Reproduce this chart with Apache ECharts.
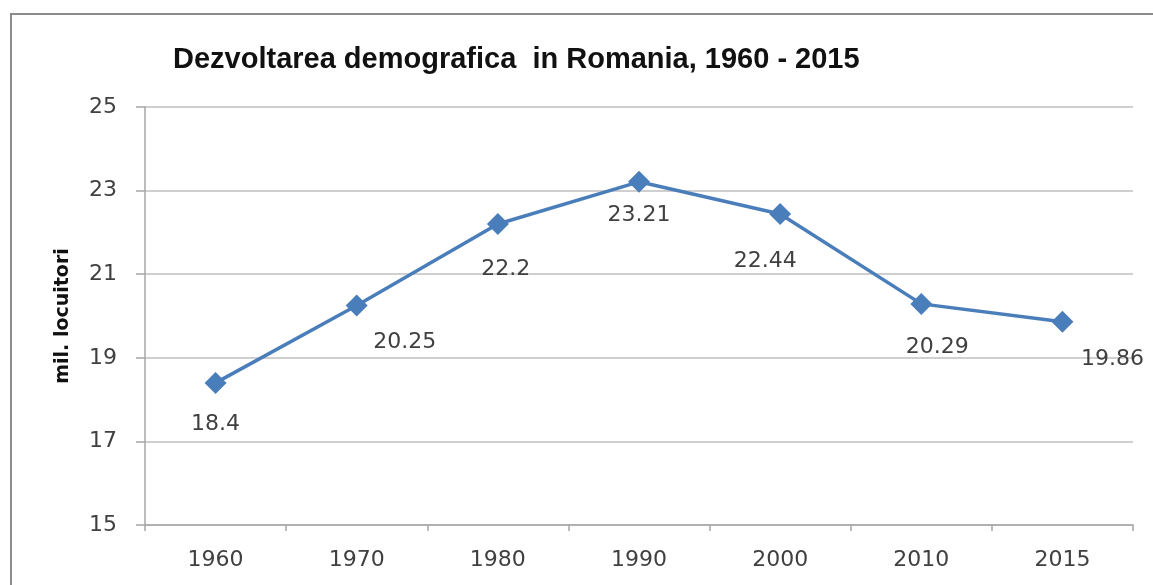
<!DOCTYPE html>
<html>
<head>
<meta charset="utf-8">
<script src="https://cdn.jsdelivr.net/npm/echarts@6/dist/echarts.min.js"></script>
<style>
  html, body { margin: 0; padding: 0; background: #fff; }
  #chart { width: 1153px; height: 585px; }
</style>
</head>
<body>
<div id="chart"></div>
<script>
// data
const years = ['1960', '1970', '1980', '1990', '2000', '2010', '2015']
const population = [18.4, 20.25, 22.2, 23.21, 22.44, 20.29, 19.86]
const yTicks = [15, 17, 19, 21, 23, 25]

// label nudges (x, y) so labels sit where the original put them
const labelShift = [[0, 0], [48, -4], [8, 4], [0, -8], [-15, 6], [16, 2], [50, -4]]

const chart = echarts.init(document.getElementById('chart'))

chart.setOption({
  backgroundColor: '#fff',
  animation: false,
  textStyle: { fontFamily: 'DejaVu Sans' },
  title: {
    text: 'Dezvoltarea demografica  in Romania, 1960 - 2015',
    left: 168,
    top: 40,
    textStyle: {
      fontFamily: 'Liberation Sans',
      fontSize: 29,
      fontWeight: 'bold',
      color: '#111'
    }
  },
  graphic: [
    {
      type: 'rect',
      shape: { x: 11, y: 14, width: 1160, height: 600 },
      style: { fill: 'none', stroke: '#8c8c8c', lineWidth: 2 },
      silent: true
    }
  ],
  grid: {
    left: 145,
    right: 20,
    top: 107,
    bottom: 60
  },
  xAxis: {
    type: 'category',
    data: years,
    boundaryGap: true,
    axisLine: { lineStyle: { color: '#a6a6a6', width: 1.5 } },
    axisTick: { show: true, length: 6, lineStyle: { color: '#a6a6a6', width: 1.5 } },
    axisLabel: { margin: 24, fontSize: 22, color: '#404040' }
  },
  yAxis: {
    type: 'value',
    min: yTicks[0],
    max: yTicks[yTicks.length - 1],
    interval: 2,
    name: 'mil. locuitori',
    nameLocation: 'middle',
    nameGap: 72,
    nameTextStyle: { fontSize: 19, fontWeight: 'bold', color: '#111' },
    axisLine: { show: true, lineStyle: { color: '#a6a6a6', width: 1.5 } },
    axisTick: { show: true, length: 9, lineStyle: { color: '#a6a6a6', width: 1.5 } },
    axisLabel: { margin: 28, fontSize: 22, color: '#404040' },
    splitLine: { lineStyle: { color: '#bfbfbf', width: 1.5 } }
  },
  series: [
    {
      type: 'line',
      data: population.map((v, i) => ({
        value: v,
        label: { offset: labelShift[i] }
      })),
      symbol: 'diamond',
      symbolSize: 22,
      lineStyle: { color: '#4a7ebb', width: 3.5 },
      itemStyle: { color: '#4a7ebb' },
      label: {
        show: true,
        position: 'bottom',
        distance: 19,
        fontSize: 22,
        color: '#404040'
      }
    }
  ]
})
</script>
</body>
</html>
